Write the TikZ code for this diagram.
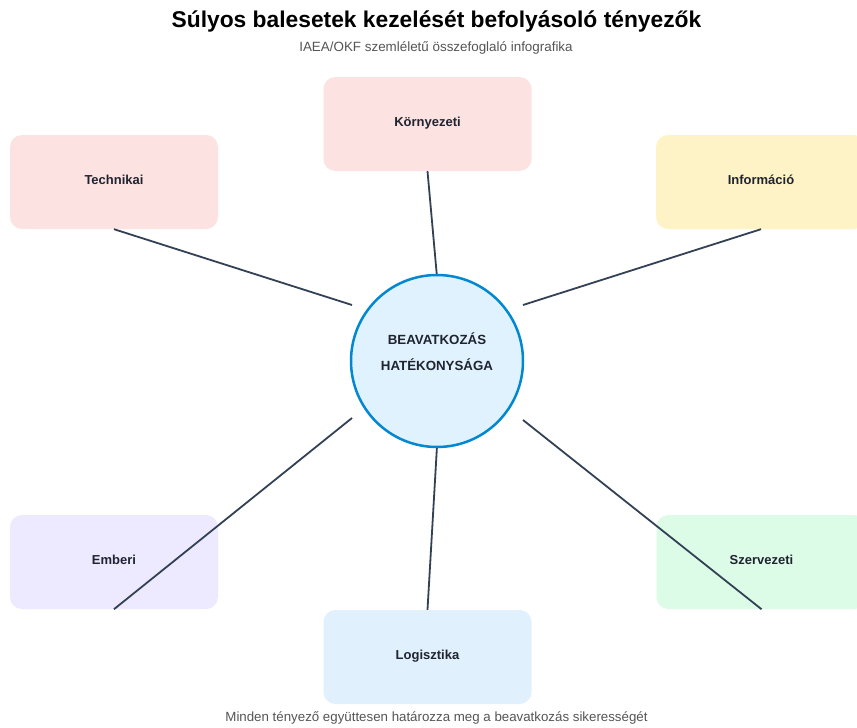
\documentclass[tikz,border=0pt]{standalone}
\usepackage{fontspec}
\setmainfont{Liberation Sans}
\definecolor{pinkbox}{HTML}{FDE2E2}
\definecolor{yellowbox}{HTML}{FEF3C7}
\definecolor{lavbox}{HTML}{EDE9FE}
\definecolor{bluebox}{HTML}{E0F0FC}
\definecolor{greenbox}{HTML}{DCFCE7}
\definecolor{hubfill}{HTML}{E0F2FE}
\definecolor{hubline}{HTML}{0288D1}
\definecolor{linkcol}{HTML}{334155}
\definecolor{labelcol}{HTML}{1F2430}
\definecolor{subcol}{HTML}{555555}
\tikzset{
  factor/.style={rectangle, rounded corners=12pt, minimum width=208pt, minimum height=94pt, inner sep=0pt, text height=9.5pt, text depth=5.5pt, font=\fontsize{13}{15}\selectfont\bfseries, text=labelcol},
  link/.style={draw=linkcol, line width=1.8pt},
  hubnode/.style={circle, minimum size=172pt, inner sep=0pt, fill=hubfill, draw=hubline, line width=2.5pt},
  hubtextstyle/.style={font=\fontsize{13.3}{26}\selectfont\bfseries, text=labelcol, align=center, inner sep=0pt}
}
\begin{document}
\begin{tikzpicture}[x=1pt,y=-1pt]
\useasboundingbox[fill=white] (0,0) rectangle (857,728);
\node[font=\fontsize{22.8}{26}\selectfont\bfseries, text=black] (title) at (436.5,22) {Súlyos balesetek kezelését befolyásoló tényezők};
\node[font=\fontsize{13.4}{15}\selectfont, text=subcol] (subtitle) at (436,48) {IAEA/OKF szemléletű összefoglaló infografika};
\node[factor, fill=pinkbox] (tech) at (114,182) {Technikai};
\node[factor, fill=pinkbox] (korny) at (427.5,124) {Környezeti};
\node[factor, fill=yellowbox, minimum width=210pt] (info) at (761,182) {Információ};
\node[factor, fill=lavbox] (ember) at (114,562) {Emberi};
\node[factor, fill=bluebox] (logi) at (427.5,657) {Logisztika};
\node[factor, fill=greenbox, minimum width=210pt] (szerv) at (761.5,562) {Szervezeti};
\coordinate (ct) at (352,305);
\coordinate (ck) at (437,277);
\coordinate (ci) at (523,305);
\coordinate (ce) at (352,418);
\coordinate (cl) at (437,446);
\coordinate (cs) at (523,420);
\draw[link] (tech.south) -- (ct);
\draw[link] (korny.south) -- (ck);
\draw[link] (info.south) -- (ci);
\draw[link] (ember.south) -- (ce);
\draw[link] (logi.north) -- (cl);
\draw[link] (szerv.south) -- (cs);
\node[hubnode] (hub) at (437,361) {};
\node[hubtextstyle] (hubtext) at (437,352) {BEAVATKOZÁS\\HATÉKONYSÁGA};
\node[font=\fontsize{13.3}{15}\selectfont, text=subcol] (footer) at (436.5,718) {Minden tényező együttesen határozza meg a beavatkozás sikerességét};
\end{tikzpicture}
\end{document}
